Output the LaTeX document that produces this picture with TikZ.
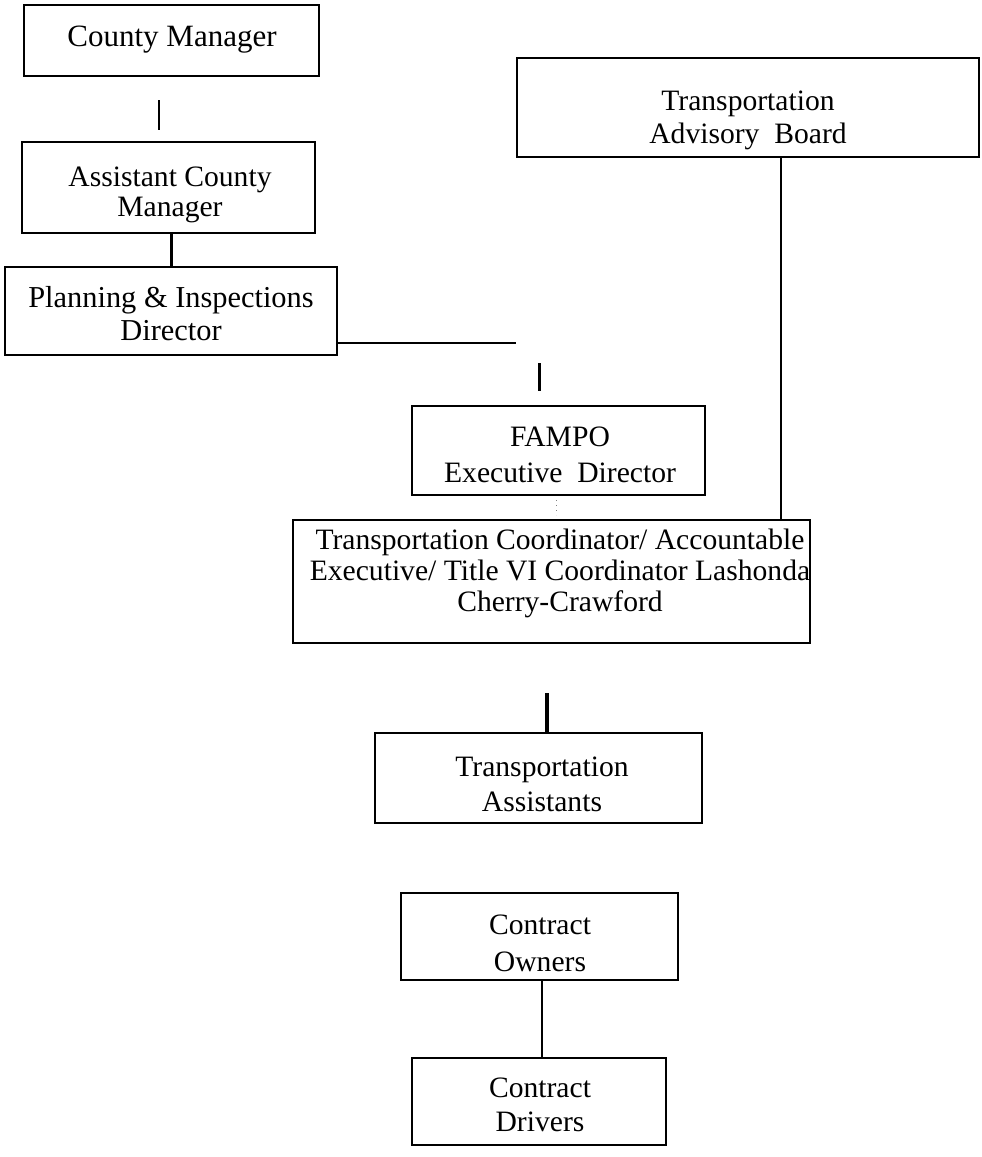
\documentclass[tikz,border=0pt]{standalone}
\usepackage{fontspec}
\setmainfont{Liberation Serif}
\begin{document}
\begin{tikzpicture}[x=0.5pt,y=-0.5pt]
\tikzset{
  box/.style={draw, line width=1pt, inner sep=0pt},
  lbl/.style={align=center, inner sep=0pt, font=\fontsize{14.8}{16.5}\selectfont},
  conn/.style={line width=1pt},
  thickconn/.style={line width=1.5pt}
}
\useasboundingbox (0,0) rectangle (981,1157);
% boxes
\node[box, minimum width=147.5pt, minimum height=35.5pt] (cm) at (171.5,40.5) {};
\node[box, minimum width=146.5pt, minimum height=45.5pt] (acm) at (168.5,187.5) {};
\node[box, minimum width=166pt, minimum height=44pt] (pl) at (171,311) {};
\node[box, minimum width=146.5pt, minimum height=44.5pt] (fampo) at (558.5,450.5) {};
\node[box, minimum width=258.5pt, minimum height=61.5pt] (tc) at (551.5,581.5) {};
\node[box, minimum width=231pt, minimum height=49.5pt] (tab) at (748,107.5) {};
\node[box, minimum width=163.5pt, minimum height=45pt] (ta) at (538.5,778) {};
\node[box, minimum width=138.5pt, minimum height=43.5pt] (co) at (539.5,936.5) {};
\node[box, minimum width=127pt, minimum height=43.5pt] (cd) at (539,1101.5) {};
% labels
\node[lbl, font=\fontsize{15.5}{16.5}\selectfont] (cmt) at (172,40) {County Manager};
\node[lbl, font=\fontsize{14.8}{15}\selectfont] (acmt) at (170,195) {Assistant County\\Manager};
\node[lbl, font=\fontsize{15.2}{16.5}\selectfont] (plt) at (171,314) {Planning \& Inspections\\Director};
\node[lbl, font=\fontsize{14.8}{18}\selectfont] (fampot) at (560,455) {FAMPO\\Executive\ \ Director};
\node[lbl, font=\fontsize{14.8}{15.5}\selectfont] (tct) at (560,573) {Transportation Coordinator/ Accountable\\Executive/ Title VI Coordinator Lashonda\\Cherry-Crawford};
\node[lbl] (tabt) at (748,120) {Transportation\\Advisory\ \ Board};
\node[lbl, font=\fontsize{14.8}{17.5}\selectfont] (tat) at (542,784) {Transportation\\Assistants};
\node[lbl, font=\fontsize{14.8}{18.5}\selectfont] (cot) at (540,943) {Contract\\Owners};
\node[lbl, font=\fontsize{14.8}{17}\selectfont] (cdt) at (540,1105) {Contract\\Drivers};
% free line ends
\coordinate (a1) at (159,100);
\coordinate (a2) at (159,130);
\coordinate (h1) at (516,343);
\coordinate (s1) at (539,363);
\coordinate (s2) at (539,391);
\coordinate (d1) at (556,500);
\coordinate (d2) at (556,515);
\coordinate (v1) at (781,0);
\coordinate (t1) at (547,693);
\coordinate (k1) at (542,0);
% connectors
\draw[line width=0.8pt] (a1) -- (a2);
\draw[thickconn] (pl.north) -- (pl.north |- acm.south);
\draw[conn] (h1 -| pl.east) -- (h1);
\draw[thickconn] (s1) -- (s2);
\draw[line width=0.5pt, gray, dotted] (d1) -- (d2);
\draw[conn] (v1 |- tab.south) -- (v1 |- tc.north);
\draw[line width=2pt] (t1) -- (t1 |- ta.north);
\draw[conn] (k1 |- co.south) -- (k1 |- cd.north);
\end{tikzpicture}
\end{document}
